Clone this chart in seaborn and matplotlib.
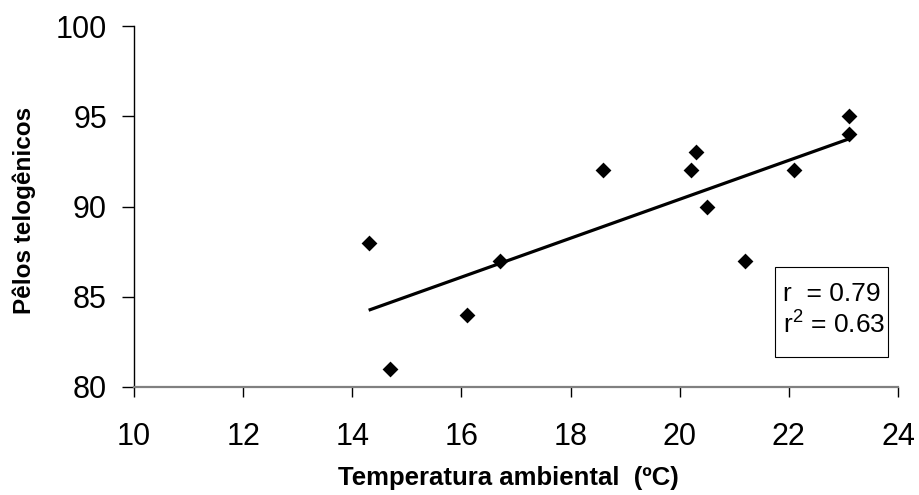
import matplotlib
matplotlib.use("Agg")
import matplotlib.pyplot as plt
from matplotlib.patches import Rectangle
import seaborn as sns
import pandas as pd

temperatura = [14.3, 14.7, 16.1, 16.7, 18.6, 20.2, 20.3, 20.5, 21.2, 22.1, 23.1, 23.1]
pelos = [88, 81, 84, 87, 92, 92, 93, 90, 87, 92, 95, 94]
x_ticks = [10, 12, 14, 16, 18, 20, 22, 24]
y_ticks = [80, 85, 90, 95, 100]
stats_lines = ["r  = 0.79", "r$^{2}$ = 0.63"]

df = pd.DataFrame({"temp": temperatura, "pelos": pelos})

sns.set_style("white")
plt.rcParams["font.family"] = ["Liberation Sans", "DejaVu Sans"]
plt.rcParams["mathtext.fontset"] = "custom"
plt.rcParams["mathtext.rm"] = "Liberation Sans"
for k in ["text.color", "axes.labelcolor", "xtick.color", "ytick.color"]:
    plt.rcParams[k] = "black"

fig = plt.figure(figsize=(9.2, 4.95), dpi=100)
ax = fig.add_axes([134 / 920, 1 - 387 / 495, (898 - 134) / 920, (387 - 26) / 495])

sns.regplot(data=df, x="temp", y="pelos", ax=ax, ci=None, color="black",
            marker="D", scatter_kws={"s": 65, "linewidths": 0, "alpha": 1, "zorder": 3},
            line_kws={"linewidth": 2.3, "solid_capstyle": "butt"})

ax.set_xlim(10, 24)
ax.set_ylim(80, 100)
ax.set_xticks(x_ticks)
ax.set_yticks(y_ticks)
ax.tick_params(axis="both", direction="out", width=1, labelsize=22,
               color="black", labelcolor="black", bottom=True, left=True)
ax.tick_params(axis="x", length=7.5, pad=18)
ax.tick_params(axis="y", length=8.5, pad=11)
for s in ["top", "right"]:
    ax.spines[s].set_visible(False)
ax.spines["left"].set_color("black")
ax.spines["bottom"].set_color("#808080")
ax.spines["left"].set_linewidth(1)
ax.spines["bottom"].set_linewidth(1.6)

ax.set_xlabel("Temperatura ambiental  (ºC)", fontsize=18.5, fontweight="bold", color="black")
ax.set_ylabel("Pêlos telogênicos", fontsize=17.5, fontweight="bold", color="black")
ax.xaxis.set_label_coords(0.49, -0.22)
ax.yaxis.set_label_coords(-0.128, 0.49)

ax.add_patch(Rectangle((0.839, 0.083), 0.148, 0.249, transform=ax.transAxes,
                       facecolor="white", edgecolor="black", linewidth=0.8,
                       zorder=4, clip_on=False))
ax.text(0.849, 0.238, stats_lines[0], transform=ax.transAxes, fontsize=19,
        ha="left", va="baseline", zorder=5, color="black")
ax.text(0.849, 0.150, stats_lines[1], transform=ax.transAxes, fontsize=19,
        ha="left", va="baseline", zorder=5, color="black")

fig.savefig("out.png", dpi=100)
